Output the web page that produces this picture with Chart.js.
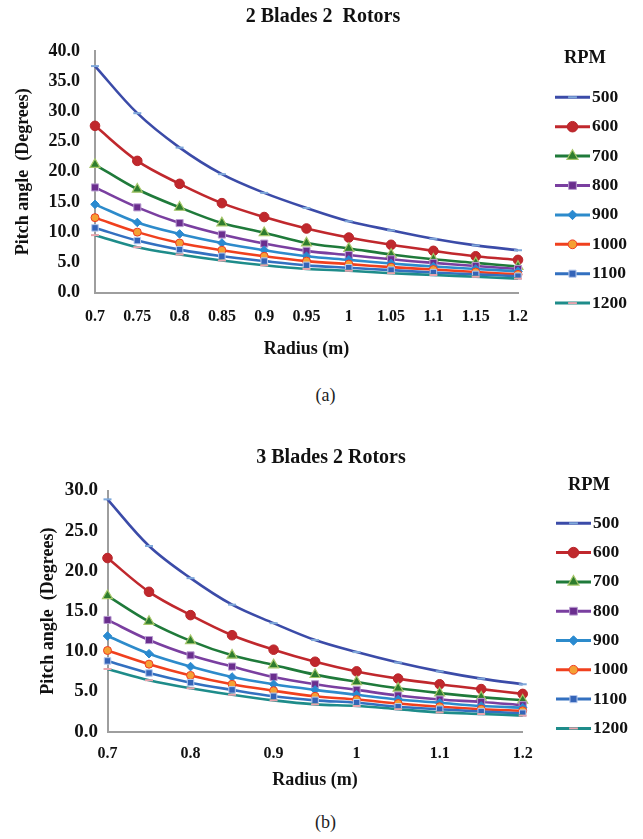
<!DOCTYPE html>
<html>
<head>
<meta charset="utf-8">
<title>Pitch angle vs radius</title>
<script src="https://cdn.jsdelivr.net/npm/chart.js@4.4.1/dist/chart.umd.min.js"></script>
<style>
  body { margin: 0; background: #fff; }
  #page { position: relative; width: 643px; height: 839px; }
  canvas { position: absolute; left: 0; }
  .cap { position: absolute; left: 4px; width: 643px; text-align: center;
         font-family: 'Liberation Serif', serif; font-size: 18px; line-height: 20px; color: #222; }
</style>
</head>
<body>
<div id="page">
  <canvas id="chartA" width="643" height="370" style="top:0"></canvas>
  <div class="cap" style="top:385px">(a)</div>
  <canvas id="chartB" width="643" height="360" style="top:440px"></canvas>
  <div class="cap" style="top:812px">(b)</div>
</div>
<script>
// radius (m) on the x axis
const radius = ['0.7', '0.75', '0.8', '0.85', '0.9', '0.95', '1', '1.05', '1.1', '1.15', '1.2'];
const rpm = ['500', '600', '700', '800', '900', '1000', '1100', '1200'];

// (a) 2 blades 2 rotors - pitch angle (degrees)
const a500  = [37.5, 29.7, 24.0, 19.6, 16.5, 14.0, 11.8, 10.3, 8.9, 7.8, 7.0];
const a600  = [27.6, 21.8, 18.0, 14.8, 12.5, 10.6, 9.1, 7.9, 6.9, 6.0, 5.4];
const a700  = [21.2, 17.1, 14.1, 11.5, 9.9, 8.2, 7.3, 6.3, 5.5, 4.9, 4.3];
const a800  = [17.4, 14.1, 11.5, 9.6, 8.1, 6.9, 6.2, 5.5, 4.9, 4.4, 3.9];
const a900  = [14.6, 11.6, 9.7, 8.2, 7.0, 6.0, 5.4, 4.8, 4.3, 3.9, 3.5];
const a1000 = [12.4, 10.0, 8.2, 7.0, 6.0, 5.2, 4.7, 4.2, 3.8, 3.4, 3.0];
const a1100 = [10.7, 8.6, 7.1, 6.0, 5.2, 4.5, 4.1, 3.7, 3.3, 3.0, 2.7];
const a1200 = [9.5, 7.5, 6.3, 5.3, 4.5, 3.9, 3.6, 3.2, 2.9, 2.6, 2.3];

// (b) 3 blades 2 rotors
const b500  = [28.9, 23.1, 19.1, 15.8, 13.5, 11.4, 9.9, 8.6, 7.5, 6.6, 5.9];
const b600  = [21.6, 17.4, 14.5, 12.0, 10.2, 8.7, 7.5, 6.6, 5.9, 5.3, 4.7];
const b700  = [16.9, 13.7, 11.3, 9.5, 8.3, 7.1, 6.2, 5.4, 4.8, 4.3, 3.9];
const b800  = [13.9, 11.4, 9.5, 8.1, 6.8, 5.9, 5.2, 4.5, 4.0, 3.7, 3.3];
const b900  = [11.9, 9.7, 8.1, 6.8, 5.9, 5.2, 4.6, 4.0, 3.6, 3.2, 3.0];
const b1000 = [10.1, 8.4, 7.0, 5.9, 5.1, 4.4, 4.0, 3.5, 3.1, 2.8, 2.6];
const b1100 = [8.8, 7.3, 6.1, 5.2, 4.4, 3.9, 3.6, 3.1, 2.8, 2.5, 2.3];
const b1200 = [7.8, 6.4, 5.4, 4.6, 3.9, 3.4, 3.2, 2.8, 2.4, 2.2, 2.0];

// line + marker look of each rpm series (excel style)
const looks = [
  { line: '#3B4BA8', style: 'line',     r: 4,   fill: '#7FA8DA', edge: '#7FA8DA', bw: 2 },
  { line: '#C0282D', style: 'circle',   r: 4.8, fill: '#C0282D', edge: '#B8262B', bw: 1 },
  { line: '#1F7A3A', style: 'triangle', r: 5.8, fill: '#2E7D2E', edge: '#A6C76A', bw: 1.2 },
  { line: '#7A3FA0', style: 'rect',     r: 5,   fill: '#6A2E8E', edge: '#B89BD0', bw: 1 },
  { line: '#2D8BCB', style: 'rectRot',  r: 4.3, fill: '#2A8AD0', edge: '#2A8AD0', bw: 1 },
  { line: '#F0401E', style: 'circle',   r: 4,   fill: '#F5A033', edge: '#EE3B24', bw: 1 },
  { line: '#3370C0', style: 'rect',     r: 4.6, fill: '#3464B8', edge: '#B9CCEE', bw: 1 },
  { line: '#1E8C8A', style: 'line',     r: 4,   fill: '#E8A3AC', edge: '#E8A3AC', bw: 2 }
];

const serif = "'Liberation Serif', 'Times New Roman', serif";

function buildSets(series) {
  return series.map((vals, i) => ({
    label: rpm[i],
    data: vals,
    borderColor: looks[i].line,
    borderWidth: 2.6,
    tension: 0.35,
    pointStyle: looks[i].style,
    pointRadius: looks[i].r,
    pointBackgroundColor: looks[i].fill,
    pointBorderColor: looks[i].edge,
    pointBorderWidth: looks[i].bw,
    order: rpm.length - i,   // later rpm drawn on top like excel
    clip: false
  }));
}

// chart title + legend on the right (line with marker, then rpm value)
const rpmLegend = {
  id: 'rpmLegend',
  afterDraw(chart, args, o) {
    const ctx = chart.ctx;
    ctx.save();
    ctx.fillStyle = '#111';
    ctx.textBaseline = 'middle';
    ctx.textAlign = 'center';
    ctx.font = 'bold 20px ' + serif;
    ctx.fillText(o.title, o.headX, o.headY);
    ctx.font = 'bold 18.5px ' + serif;
    ctx.fillText('RPM', o.titleX, o.titleY);
    ctx.textAlign = 'left';
    ctx.font = 'bold 17.5px ' + serif;
    chart.data.datasets.forEach((ds, i) => {
      const y = o.top + i * o.gap;
      ctx.strokeStyle = ds.borderColor;
      ctx.lineWidth = 3;
      ctx.beginPath();
      ctx.moveTo(o.x1, y);
      ctx.lineTo(o.x2, y);
      ctx.stroke();
      ctx.fillStyle = ds.pointBackgroundColor;
      ctx.strokeStyle = ds.pointBorderColor;
      ctx.lineWidth = ds.pointBorderWidth;
      if (Chart.helpers && Chart.helpers.drawPoint) {
        Chart.helpers.drawPoint(ctx, { pointStyle: ds.pointStyle, radius: ds.pointRadius * 1.1, rotation: 0, borderWidth: ds.pointBorderWidth }, (o.x1 + o.x2) / 2, y);
      }
      ctx.fillStyle = '#111';
      ctx.fillText(ds.label, o.x2 + 2, y);
    });
    ctx.restore();
  }
};

function makeChart(id, cfg) {
  return new Chart(document.getElementById(id), {
    type: 'line',
    data: { labels: radius, datasets: buildSets(cfg.series) },
    options: {
      responsive: false,
      animation: false,
      devicePixelRatio: 1,
      layout: { padding: cfg.pad },
      plugins: {
        legend: { display: false },
        tooltip: { enabled: false },
        title: { display: false },
        rpmLegend: cfg.legend
      },
      scales: {
        x: {
          type: 'category',
          offset: false,
          grid: { display: false, drawTicks: false },
          border: { display: true, color: '#9E9E9E', width: 2 },
          ticks: {
            autoSkip: false,
            maxRotation: 0,
            padding: cfg.xTickPad,
            color: '#111',
            font: { family: serif, size: 16, weight: 'bold' },
            callback: cfg.xLabel
          },
          title: {
            display: true,
            text: 'Radius (m)',
            color: '#111',
            font: { family: serif, size: 18, weight: 'bold' },
            padding: { top: 0, bottom: cfg.xTitlePad }
          },
          afterFit: s => { s.height = cfg.xHeight; }
        },
        y: {
          min: 0,
          max: cfg.yMax,
          grid: { display: false, drawTicks: false },
          border: { display: true, color: '#9E9E9E', width: 2 },
          ticks: {
            stepSize: 5,
            padding: cfg.yTickPad,
            color: '#111',
            font: { family: serif, size: cfg.yTickSize, weight: 'bold' },
            callback: v => v.toFixed(1)
          },
          title: {
            display: true,
            text: 'Pitch angle  (Degrees)',
            color: '#111',
            font: { family: serif, size: 18, weight: 'bold' },
            padding: { top: cfg.yTitlePad, bottom: 0 }
          },
          afterFit: s => { s.width = cfg.yWidth; }
        }
      }
    },
    plugins: [rpmLegend]
  });
}

makeChart('chartA', {
  series: [a500, a600, a700, a800, a900, a1000, a1100, a1200],
  pad: { left: 0, right: 125, top: 51, bottom: 7.5 },
  yMax: 40, yWidth: 95, yTickPad: 15, yTickSize: 18, yTitlePad: 13,
  xHeight: 70, xTickPad: 15, xTitlePad: 2,
  xLabel: (v, i) => radius[i],
  legend: { title: '2 Blades 2  Rotors', headX: 323, headY: 17,
            titleX: 585, titleY: 58, top: 97.3, gap: 29.4, x1: 555, x2: 590 }
});

makeChart('chartB', {
  series: [b500, b600, b700, b800, b900, b1000, b1100, b1200],
  pad: { left: 0, right: 120.3, top: 50.5, bottom: 8.3 },
  yMax: 30, yWidth: 107.5, yTickPad: 9.5, yTickSize: 19, yTitlePad: 37.7,
  xHeight: 60, xTickPad: 12.7, xTitlePad: 0.6,
  xLabel: (v, i) => (i % 2 === 0 ? radius[i] : ''),
  legend: { title: '3 Blades 2 Rotors', headX: 331, headY: 17.5,
            titleX: 589, titleY: 45, top: 83.3, gap: 29.3, x1: 556, x2: 591 }
});
</script>
</body>
</html>
